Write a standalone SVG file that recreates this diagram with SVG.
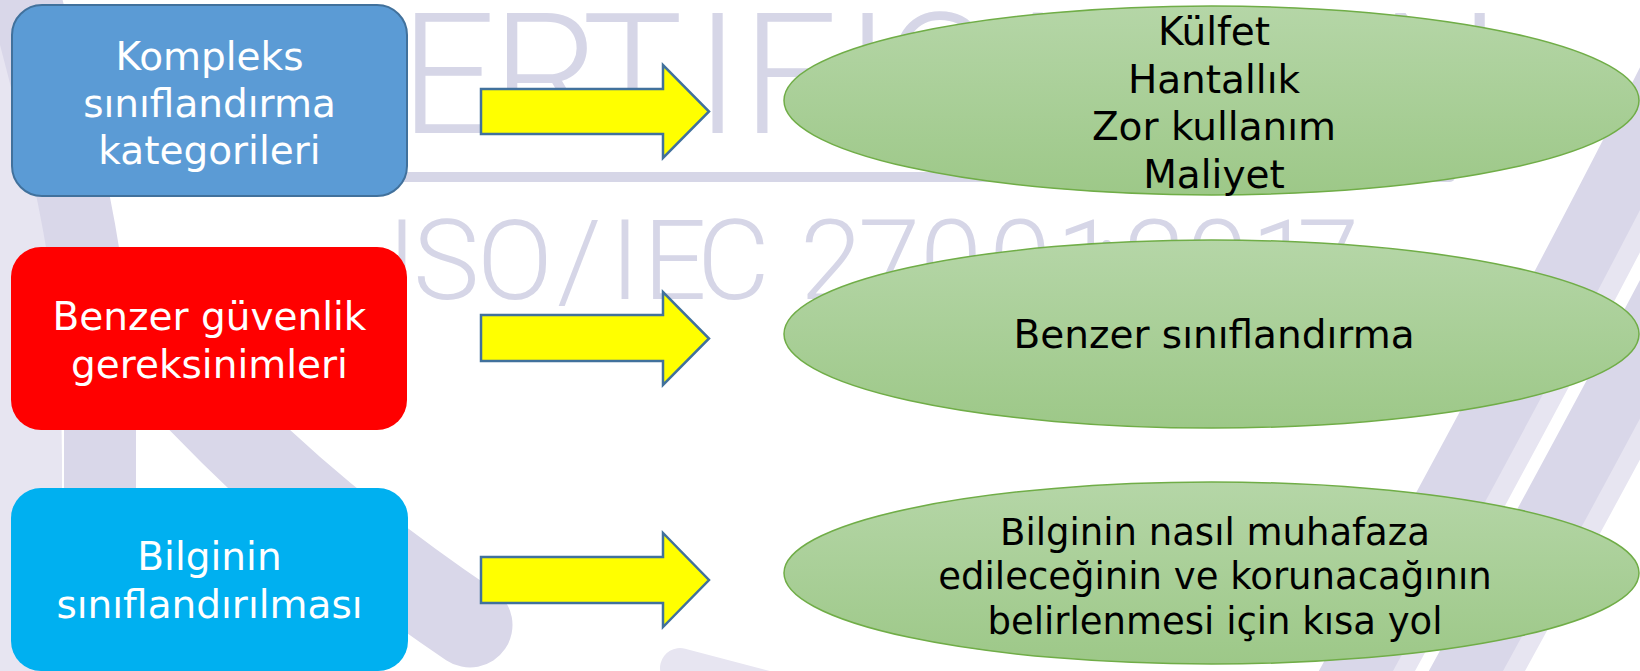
<svg xmlns="http://www.w3.org/2000/svg" width="1640" height="671" viewBox="0 0 1640 671">
<style>
.wm{fill:#d6d6e7;font-family:Roboto,"Open Sans","DejaVu Sans",sans-serif;font-weight:300}
.swd{fill:none;stroke:#d9d7e9}
.swl{fill:none;stroke:#e7e5f1}
.box-t{fill:#ffffff;font-family:"DejaVu Sans",Verdana,sans-serif;font-size:39px;text-anchor:middle}
.ell{stroke:#70ad47;stroke-width:1.5;fill:url(#gg)}
.ell-t{fill:#000000;font-family:"DejaVu Sans",Verdana,sans-serif;text-anchor:middle}
.arr{fill:#ffff00;stroke:#41719c;stroke-width:2.5;stroke-linejoin:miter}
</style>
<defs>
<linearGradient id="gg" x1="0" y1="0" x2="0" y2="1">
<stop offset="0" stop-color="#b5d6a7"/>
<stop offset="1" stop-color="#9dc888"/>
</linearGradient>
</defs>
<rect width="1640" height="671" fill="#ffffff"/>
<g id="background-watermark">
<path fill="#e7e5f1" d="M0,-5 L25,-5 C55,150 60,300 62,460 L62,671 L0,671 Z"/>
<path class="swd" stroke-width="72" d="M20,-20 C60,130 95,260 100,420 L100,671"/>
<path class="swd" stroke-width="85" stroke-linecap="round" d="M150,350 L232,433 Q330,530 470,625"/>
<path class="swl" stroke-width="40" stroke-linecap="round" d="M680,668 L820,705"/>
<path class="swl" stroke-width="65" d="M1702,60 Q1582,300 1362,700"/>
<path class="swd" stroke-width="65" d="M1680,60 Q1560,300 1340,700"/>
<path class="swl" stroke-width="65" d="M1812,60 Q1692,300 1472,700"/>
<path class="swd" stroke-width="65" d="M1790,60 Q1670,300 1450,700"/>
<text class="wm" font-size="169" y="133" x="290 400 492 582 695 742 845 883 985 1090 1200 1235 1380">CERTIFICATION</text>
<rect x="295" y="172" width="1160" height="10" rx="5" fill="#d6d6e7"/>
<text class="wm" font-size="112" y="299" x="387 413 477 557 610 643 697 760 800 858 920 989 1056 1095 1124 1186 1251 1297">ISO/IEC 27001:2017</text>
</g>
<g id="connectors">
<path class="arr" d="M481,89 L663,89 L663,65 L709,111.5 L663,158 L663,134 L481,134 Z"/>
<path class="arr" d="M481,315 L663,315 L663,292 L709,338.5 L663,385 L663,361 L481,361 Z"/>
<path class="arr" d="M481,557 L663,557 L663,533 L709,580 L663,627 L663,603 L481,603 Z"/>
</g>
<g id="node-kompleks">
<rect x="12" y="5" width="395" height="191" rx="30" fill="#5b9bd5" stroke="#41719c" stroke-width="2"/>
<text class="box-t" x="209.5" y="70">Kompleks</text>
<text class="box-t" x="209.5" y="117">sınıflandırma</text>
<text class="box-t" x="209.5" y="164">kategorileri</text>
</g>
<g id="node-benzer-guvenlik">
<rect x="11" y="247" width="396" height="183" rx="30" fill="#ff0000"/>
<text class="box-t" x="209.5" y="330">Benzer güvenlik</text>
<text class="box-t" x="209.5" y="378">gereksinimleri</text>
</g>
<g id="node-bilginin-siniflandirilmasi">
<rect x="11" y="488" width="397" height="183" rx="30" fill="#00b0f0"/>
<text class="box-t" x="209.5" y="570">Bilginin</text>
<text class="box-t" x="209.5" y="618">sınıflandırılması</text>
</g>
<g id="node-kulfet">
<ellipse class="ell" cx="1211.5" cy="100.5" rx="427.5" ry="94.5"/>
<text class="ell-t" font-size="39" x="1214" y="45">Külfet</text>
<text class="ell-t" font-size="39" x="1214" y="93">Hantallık</text>
<text class="ell-t" font-size="39" x="1214" y="140">Zor kullanım</text>
<text class="ell-t" font-size="39" x="1214" y="188">Maliyet</text>
</g>
<g id="node-benzer-siniflandirma">
<ellipse class="ell" cx="1211.5" cy="334" rx="427.5" ry="94"/>
<text class="ell-t" font-size="39" x="1214" y="348">Benzer sınıflandırma</text>
</g>
<g id="node-kisa-yol">
<ellipse class="ell" cx="1211.5" cy="573" rx="427.5" ry="91"/>
<text class="ell-t" font-size="37" x="1215" y="545">Bilginin nasıl muhafaza</text>
<text class="ell-t" font-size="37" x="1215" y="589">edileceğinin ve korunacağının</text>
<text class="ell-t" font-size="37" x="1215" y="634">belirlenmesi için kısa yol</text>
</g>
</svg>
